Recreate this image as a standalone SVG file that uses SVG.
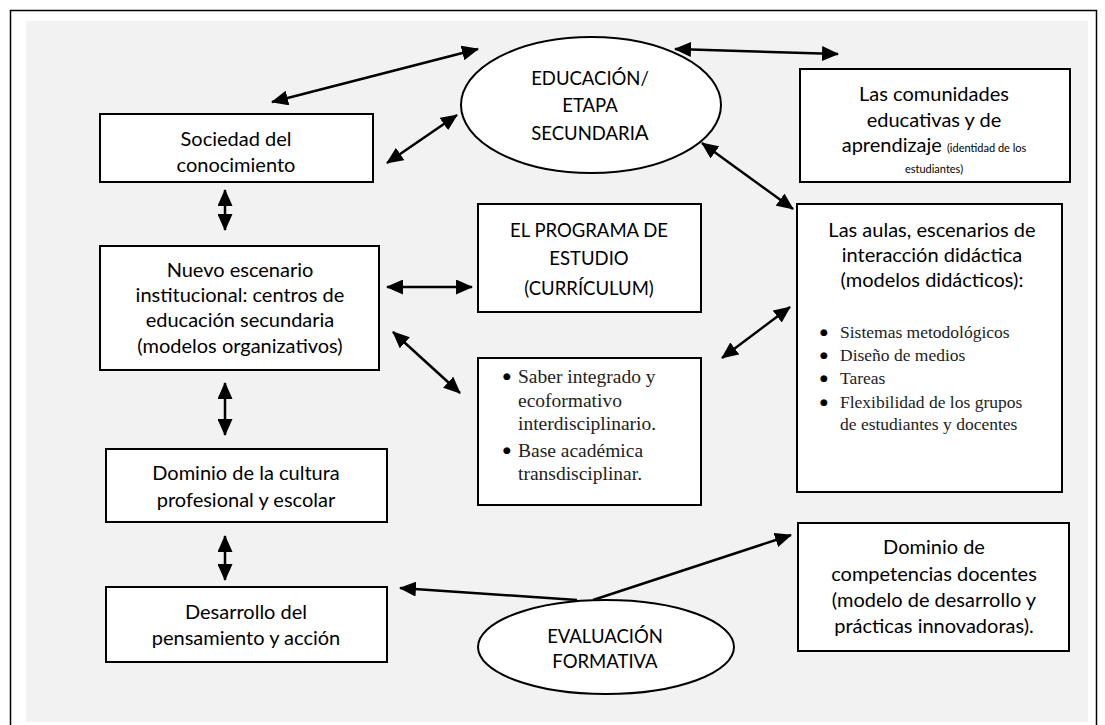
<svg xmlns="http://www.w3.org/2000/svg" width="1105" height="725" viewBox="0 0 1105 725">
<style>
.box{fill:#fff;stroke:#000;stroke-width:2}
.ell{fill:#fff;stroke:#000;stroke-width:2}
.t{font-family:Lato,"Open Sans","Liberation Sans",sans-serif;font-size:20px;fill:#000;text-anchor:middle}
.k{font-size:18.5px}
.sm{font-size:11px}
.s{font-family:"Liberation Serif","DejaVu Serif",serif;fill:#222}
.b{font-family:"DejaVu Sans",sans-serif;font-size:9px;fill:#000}
.c{fill:none;stroke:#000;stroke-width:2.5}
</style>
<defs>
<marker id="ah" markerUnits="userSpaceOnUse" markerWidth="17" markerHeight="15" refX="16" refY="7.5" orient="auto-start-reverse" viewBox="0 0 17 15">
<path d="M0,0 L17,7.5 L0,15 z" fill="#000"/>
</marker>
</defs>
<rect x="0" y="0" width="1105" height="725" fill="#fff"/>
<rect x="10.5" y="10.5" width="1086" height="730" fill="none" stroke="#000" stroke-width="1.5"/>
<rect x="26" y="21" width="1062" height="701" fill="#f2f2f2"/>

<g id="connectors">
<line class="c" x1="478" y1="49" x2="272" y2="102" marker-start="url(#ah)" marker-end="url(#ah)"/>
<line class="c" x1="387" y1="163" x2="457" y2="115" marker-start="url(#ah)" marker-end="url(#ah)"/>
<line class="c" x1="675" y1="49" x2="838" y2="54" marker-start="url(#ah)" marker-end="url(#ah)"/>
<line class="c" x1="702" y1="143" x2="793" y2="209" marker-start="url(#ah)" marker-end="url(#ah)"/>
<line class="c" x1="225" y1="190" x2="225" y2="230" marker-start="url(#ah)" marker-end="url(#ah)"/>
<line class="c" x1="387" y1="287" x2="472" y2="287" marker-start="url(#ah)" marker-end="url(#ah)"/>
<line class="c" x1="393" y1="332" x2="460" y2="393" marker-start="url(#ah)" marker-end="url(#ah)"/>
<line class="c" x1="722" y1="358" x2="790" y2="307" marker-start="url(#ah)" marker-end="url(#ah)"/>
<line class="c" x1="225" y1="383" x2="225" y2="435" marker-start="url(#ah)" marker-end="url(#ah)"/>
<line class="c" x1="225" y1="536" x2="225" y2="580" marker-start="url(#ah)" marker-end="url(#ah)"/>
<line class="c" x1="577" y1="600" x2="400" y2="588" marker-end="url(#ah)"/>
<line class="c" x1="593" y1="600" x2="791" y2="535" marker-end="url(#ah)"/>
</g>

<g id="educacion">
<ellipse class="ell" cx="591" cy="105" rx="130" ry="68"/>
<text class="t k" x="590" y="85">EDUCACIÓN/</text>
<text class="t k" x="590" y="112">ETAPA</text>
<text class="t k" x="590" y="140">SECUNDARI<tspan style="font-size:20.5px">A</tspan></text>
</g>

<g id="sociedad">
<rect class="box" x="100" y="114" width="273" height="68"/>
<text class="t" x="236" y="146">Sociedad del</text>
<text class="t" x="236" y="172">conocimiento</text>
</g>

<g id="comunidades">
<rect class="box" x="800" y="69" width="270" height="113"/>
<text class="t" x="934" y="101">Las comunidades</text>
<text class="t" x="934" y="127">educativas y de</text>
<text class="t" x="934" y="152">aprendizaje <tspan class="sm">(identidad de los</tspan></text>
<text class="t sm" x="934" y="173">estudiantes)</text>
</g>

<g id="nuevo">
<rect class="box" x="100" y="246" width="279" height="124"/>
<text class="t" x="240" y="277">Nuevo escenario</text>
<text class="t" x="240" y="302">institucional: centros de</text>
<text class="t" x="240" y="327">educación secundaria</text>
<text class="t" x="240" y="353">(modelos organizativos)</text>
</g>

<g id="programa">
<rect class="box" x="478" y="204" width="223" height="108"/>
<text class="t k" x="589" y="237">EL PROGRAMA DE</text>
<text class="t k" x="589" y="265">ESTUDIO</text>
<text class="t k" x="589" y="295">(CURRÍCULUM)</text>
</g>

<g id="aulas">
<rect class="box" x="797" y="204" width="265" height="288"/>
<text class="t" x="932" y="237">Las aulas, escenarios de</text>
<text class="t" x="932" y="262">interacción didáctica</text>
<text class="t" x="932" y="287">(modelos didácticos):</text>
<g class="s" font-size="17.5">
<text x="820" y="338"><tspan class="b" dy="-3.5">●</tspan><tspan x="840" dy="3.5">Sistemas metodológicos</tspan></text>
<text x="820" y="361"><tspan class="b" dy="-3.5">●</tspan><tspan x="840" dy="3.5">Diseño de medios</tspan></text>
<text x="820" y="384"><tspan class="b" dy="-3.5">●</tspan><tspan x="840" dy="3.5">Tareas</tspan></text>
<text x="820" y="408"><tspan class="b" dy="-3.5">●</tspan><tspan x="840" dy="3.5">Flexibilidad de los grupos</tspan></text>
<text x="840" y="430">de estudiantes y docentes</text>
</g>
</g>

<g id="saber">
<rect class="box" x="478" y="358" width="223" height="147"/>
<g class="s" font-size="19.5">
<text x="503" y="383"><tspan class="b" dy="-4">●</tspan><tspan x="518" dy="4">Saber integrado y</tspan></text>
<text x="518" y="407">ecoformativo</text>
<text x="518" y="430">interdisciplinario.</text>
<text x="503" y="457"><tspan class="b" dy="-4">●</tspan><tspan x="518" dy="4">Base académica</tspan></text>
<text x="518" y="480">transdisciplinar.</text>
</g>
</g>

<g id="cultura">
<rect class="box" x="106" y="449" width="281" height="73"/>
<text class="t" x="246" y="480">Dominio de la cultura</text>
<text class="t" x="246" y="507">profesional y escolar</text>
</g>

<g id="desarrollo">
<rect class="box" x="106" y="587" width="281" height="75"/>
<text class="t" x="246" y="619">Desarrollo del</text>
<text class="t" x="246" y="645">pensamiento y acción</text>
</g>

<g id="competencias">
<rect class="box" x="798" y="523" width="271" height="128"/>
<text class="t" x="934" y="554">Dominio de</text>
<text class="t" x="934" y="581">competencias docentes</text>
<text class="t" x="934" y="607">(modelo de desarrollo y</text>
<text class="t" x="934" y="633">prácticas innovadoras).</text>
</g>

<g id="evaluacion">
<ellipse class="ell" cx="606" cy="647" rx="128" ry="47"/>
<text class="t k" x="605" y="643">EVALUACIÓN</text>
<text class="t k" x="605" y="668">FORMATIVA</text>
</g>
</svg>
